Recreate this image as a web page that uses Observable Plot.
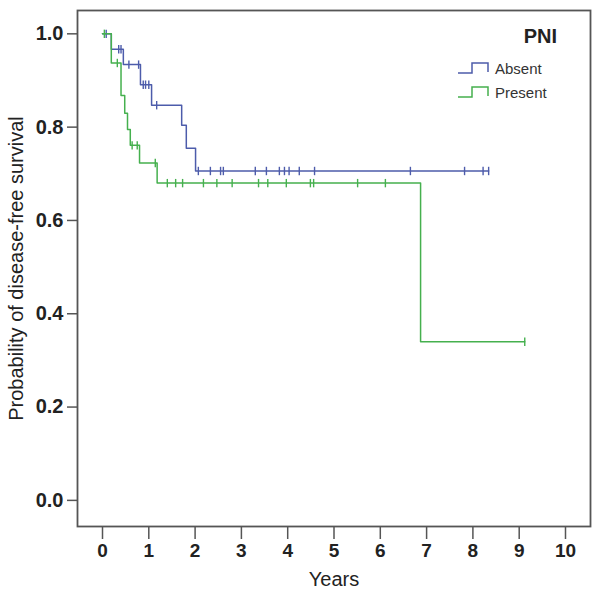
<!DOCTYPE html>
<html>
<head>
<meta charset="utf-8">
<script src="https://cdn.jsdelivr.net/npm/d3@7"></script>
<script src="https://cdn.jsdelivr.net/npm/@observablehq/plot@0.6"></script>
<style>
  html, body { margin: 0; padding: 0; background: #fff; }
  #chart svg { display: block; }
  #chart g[aria-label="x-axis tick label"] text,
  #chart g[aria-label="y-axis tick label"] text { font-weight: bold; }
</style>
</head>
<body>
<div id="chart"></div>
<script>
// ---- data ----
const xTicks = [0, 1, 2, 3, 4, 5, 6, 7, 8, 9, 10];
const yTicks = [0, 0.2, 0.4, 0.6, 0.8, 1.0];
const groups = ["Absent", "Present"];
const groupColors = ["#4d5cab", "#45b04e"];

// Kaplan–Meier step curves (time in years, survival probability)
const absentTime = [0, 0.19, 0.45, 0.82, 1.06, 1.71, 1.81, 2.01, 8.34];
const absentSurv = [1, 0.967, 0.934, 0.891, 0.847, 0.804, 0.755, 0.706, 0.706];
const presentTime = [0, 0.19, 0.40, 0.48, 0.54, 0.60, 0.80, 1.18, 6.87, 9.12];
const presentSurv = [1, 0.9375, 0.868, 0.83, 0.795, 0.761, 0.723, 0.680, 0.34, 0.34];

// censored observations
const absentCensorTime = [0.08, 0.35, 0.40, 0.57, 0.78, 0.88, 0.93, 1.00, 1.17, 2.07, 2.33, 2.55, 2.61, 3.30, 3.54, 3.82, 3.93, 4.03, 4.25, 4.58, 6.65, 7.82, 8.22, 8.34];
const absentCensorSurv = [1, 0.967, 0.967, 0.934, 0.934, 0.891, 0.891, 0.891, 0.847, 0.706, 0.706, 0.706, 0.706, 0.706, 0.706, 0.706, 0.706, 0.706, 0.706, 0.706, 0.706, 0.706, 0.706, 0.706];
const presentCensorTime = [0.04, 0.32, 0.64, 0.75, 1.14, 1.40, 1.58, 1.73, 2.18, 2.47, 2.80, 3.37, 3.57, 3.97, 4.49, 4.56, 5.51, 6.11, 9.12];
const presentCensorSurv = [1, 0.9375, 0.761, 0.761, 0.723, 0.680, 0.680, 0.680, 0.680, 0.680, 0.680, 0.680, 0.680, 0.680, 0.680, 0.680, 0.680, 0.680, 0.34];

const legendTitle = "PNI";
const xLabel = "Years";
const yLabel = "Probability of disease-free survival";

// ---- tables ----
const absentCurve = absentTime.map((t, i) => ({t, s: absentSurv[i]}));
const presentCurve = presentTime.map((t, i) => ({t, s: presentSurv[i]}));
const absentCens = absentCensorTime.map((t, i) => ({t, s: absentCensorSurv[i]}));
const presentCens = presentCensorTime.map((t, i) => ({t, s: presentCensorSurv[i]}));

// vertical tick symbol for censor marks
const vTick = {
  draw(context, size) {
    const r = Math.sqrt(size / Math.PI);
    context.moveTo(0, -r);
    context.lineTo(0, r);
  }
};

const font = "'Liberation Sans', Arial, sans-serif";

const plot = Plot.plot({
  width: 600,
  height: 590,
  marginLeft: 77,
  marginRight: 10,
  marginTop: 10,
  marginBottom: 64,
  style: {fontFamily: font, fontSize: "19px", color: "#222", background: "#fff"},
  x: {domain: [-0.54, 10.54]},
  y: {domain: [-0.056, 1.05]},
  marks: [
    Plot.line(absentCurve, {x: "t", y: "s", curve: "step-after", stroke: groupColors[0], strokeWidth: 1.5}),
    Plot.dot(absentCens, {x: "t", y: "s", symbol: vTick, r: 4.2, fill: "none", stroke: groupColors[0], strokeWidth: 1.4}),
    Plot.line(presentCurve, {x: "t", y: "s", curve: "step-after", stroke: groupColors[1], strokeWidth: 1.5}),
    Plot.dot(presentCens, {x: "t", y: "s", symbol: vTick, r: 4.2, fill: "none", stroke: groupColors[1], strokeWidth: 1.4}),
    Plot.axisX({ticks: xTicks, tickFormat: d3.format("d"), tickSize: 13, tickPadding: 4, stroke: "#555", strokeWidth: 1.5,
      label: xLabel, labelAnchor: "center", labelOffset: 59, labelArrow: "none", fontSize: 19}),
    Plot.axisY({ticks: yTicks, tickFormat: d3.format(".1f"), tickSize: 10, tickPadding: 4, stroke: "#555", strokeWidth: 1.5,
      label: yLabel, labelAnchor: "center", labelOffset: 69, labelArrow: "none", fontSize: 20}),
    Plot.frame({stroke: "#555", strokeWidth: 1.8})
  ]
});

document.getElementById("chart").appendChild(plot);

// axis labels: regular weight, a bit larger
d3.select(plot).selectAll('g[aria-label="x-axis label"] text, g[aria-label="y-axis label"] text')
  .style("font-size", "20px").style("font-weight", "normal");

// ---- legend (inside the plot, top right) ----
const svg = d3.select(plot);
const lg = svg.append("g").attr("font-family", font).attr("text-anchor", "start");
lg.append("text").attr("x", 557).attr("y", 43).attr("text-anchor", "end")
  .attr("font-size", 20).attr("font-weight", "bold").attr("fill", "#222").text(legendTitle);
groups.forEach((g, i) => {
  const y0 = 73 + i * 24;
  lg.append("path")
    .attr("d", `M458,${y0}H472V${y0 - 10}H488V${y0 - 1}`)
    .attr("fill", "none").attr("stroke", groupColors[i]).attr("stroke-width", 1.5);
  lg.append("text").attr("x", 495).attr("y", y0 + 1).attr("text-anchor", "start")
    .attr("font-size", 15).attr("fill", "#333").text(g);
});
</script>
</body>
</html>
